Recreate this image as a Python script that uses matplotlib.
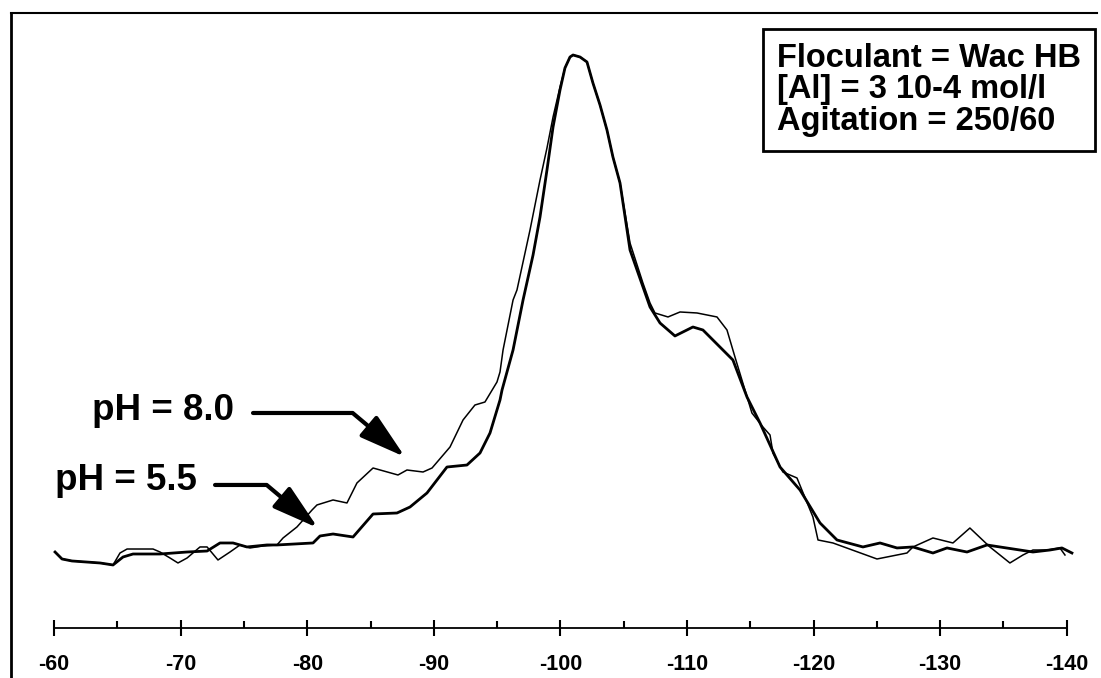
import matplotlib.pyplot as plt
from matplotlib.ticker import FixedLocator

plt.rcParams['font.family'] = ['Liberation Sans', 'DejaVu Sans']
plt.rcParams['axes.unicode_minus'] = False

# chemical shift (ppm) and intensity (arbitrary units, peak = 100)
ph55_x = [-60.08, -60.63, -61.42, -63.63, -64.66, -65.45, -66.24, -68.37, -70.51, -72.09,
          -73.11, -74.14, -75.24, -76.82, -77.61, -80.46, -81.01, -82.04, -83.62, -85.20,
          -87.09, -88.12, -89.46, -91.04, -92.62, -93.65, -94.44, -95.23, -95.39, -96.26,
          -97.05, -97.84, -98.39, -98.94, -99.42, -99.97, -100.36, -100.76, -101.00, -101.55,
          -102.10, -102.57, -103.13, -103.68, -104.15, -104.71,
          -105.50, -107.08, -107.87, -109.05, -110.47, -111.26, -113.63, -114.74, -115.77, -117.35,
          -118.93, -120.51, -121.85, -123.90, -125.25, -126.59, -127.85, -129.43, -130.54, -132.12,
          -133.70, -134.72, -136.30, -137.33, -138.67, -139.62, -140.41]
ph55_y = [5.33, 4.0, 3.62, 3.24, 2.86, 4.38, 4.95, 4.95, 5.33, 5.52,
          7.05, 7.05, 6.29, 6.67, 6.67, 7.05, 8.38, 8.76, 8.19, 12.57,
          12.76, 13.9, 16.57, 21.52, 21.9, 24.19, 28.0, 34.29, 36.19, 43.81,
          53.33, 61.9, 69.14, 78.1, 86.29, 93.33, 97.52, 99.62, 100, 99.62,
          98.67, 94.67, 90.48, 85.71, 80.57, 75.62,
          62.86, 52.0, 48.95, 46.48, 48.19, 47.62, 41.9, 34.86, 29.9, 21.52,
          17.14, 10.86, 7.62, 6.29, 7.05, 6.1, 6.29, 5.14, 6.1, 5.33,
          6.67, 6.29, 5.71, 5.33, 5.71, 6.1, 5.14]

ph80_x = [-60.08, -60.63, -61.42, -63.63, -64.66, -65.21, -65.77, -67.82, -68.37, -69.16,
          -69.79, -70.51, -71.53, -72.09, -72.95, -73.90, -74.69, -75.48, -76.51, -77.61,
          -78.09, -79.19, -80.38, -80.77, -82.04, -83.14, -83.93, -85.20, -87.17, -87.88,
          -89.15, -89.86, -91.28, -92.31, -93.25, -94.04, -94.99, -95.23, -95.47,
          -96.26, -96.57, -97.60, -98.39, -98.94, -99.42, -99.97, -100.36, -100.76, -101.00,
          -101.55, -102.10, -102.57, -103.13, -103.68, -104.15, -104.71, -105.50,
          -106.52, -107.08, -107.47, -108.50, -109.45, -110.79, -112.37, -113.16, -113.79,
          -114.58, -115.13, -116.00, -116.56, -116.79, -117.58, -118.69, -119.95, -120.35, -121.53,
          -125.01, -127.38, -127.85, -129.43, -131.01, -132.35, -133.93, -135.51, -136.54, -137.33,
          -138.44, -139.46, -139.86]
ph80_y = [5.33, 4.0, 3.62, 3.24, 2.86, 5.14, 5.9, 5.9, 5.33, 4.19,
          3.24, 4.19, 6.29, 6.29, 3.81, 5.33, 6.67, 6.1, 6.48, 6.67,
          8.0, 10.1, 13.33, 14.29, 15.24, 14.67, 18.48, 21.33, 20.0, 20.95,
          20.57, 21.33, 25.33, 30.48, 33.33, 33.9, 37.71, 39.62, 43.81,
          53.33, 55.24, 66.67, 76.19, 82.29, 88.19, 93.9, 97.52, 99.62, 100,
          99.62, 98.67, 94.67, 90.48, 85.71, 80.57, 75.62, 64.19,
          56.57, 52.76, 50.86, 50.1, 51.05, 50.86, 50.1, 47.62, 42.48,
          36.19, 31.81, 29.14, 27.62, 24.19, 20.57, 19.43, 12.0, 7.62, 7.05,
          4.0, 5.14, 6.29, 8.0, 7.05, 9.9, 6.29, 3.24, 4.76, 5.71,
          5.71, 6.1, 4.76]

major_ticks = [-60, -70, -80, -90, -100, -110, -120, -130, -140]
tick_labels = ['-60', '-70', '-80', '-90', '-100', '-110', '-120', '-130', '-140']
minor_ticks = [-65, -75, -85, -95, -105, -115, -125, -135]

info = 'Floculant = Wac HB\n[Al] = 3 10-4 mol/l\nAgitation = 250/60'

fig = plt.figure(figsize=(11.01, 6.78), dpi=100)
ax = fig.add_axes([11 / 1101, 0, 1086 / 1101, 665 / 678])
ax.set_xlim(-56.60, -142.39)
ax.set_ylim(-18.67, 108.0)

ax.plot(ph80_x, ph80_y, color='black', lw=1.1)
ax.plot(ph55_x, ph55_y, color='black', lw=2.0)

# axes decoration
ax.spines['right'].set_visible(False)
ax.spines['left'].set_linewidth(2.0)
ax.spines['top'].set_linewidth(1.5)
ax.spines['bottom'].set_position(('data', -9.14))
ax.spines['bottom'].set_bounds(-60, -140)
ax.spines['bottom'].set_linewidth(1.3)
ax.set_yticks([])
ax.xaxis.set_major_locator(FixedLocator(major_ticks))
ax.xaxis.set_minor_locator(FixedLocator(minor_ticks))
ax.set_xticklabels(tick_labels, fontsize=15.5, fontweight='bold')
ax.tick_params(axis='x', which='major', direction='inout', length=12, width=1.5, pad=13)
ax.tick_params(axis='x', which='minor', direction='in', length=5, width=1.5)

# labels with arrows
ax.text(-63.0, 32.19, 'pH = 8.0', fontsize=26.5, fontweight='bold', ha='left', va='center')
ax.text(-60.08, 18.86, 'pH = 5.5', fontsize=26.5, fontweight='bold', ha='left', va='center')
arrow = dict(arrowstyle='-|>,head_length=1.9,head_width=0.55', lw=3, color='black',
             mutation_scale=15, shrinkA=0, shrinkB=0,
             connectionstyle='angle,angleA=0,angleB=-40,rad=0')
ax.annotate('', xy=(-87.73, 23.43), xytext=(-75.72, 31.81), arrowprops=arrow)
ax.annotate('', xy=(-80.85, 9.90), xytext=(-72.72, 18.10), arrowprops=arrow)

ax.text(-117.11, 102.3, info, fontsize=23.5, fontweight='bold', ha='left', va='top',
        linespacing=1.02,
        bbox=dict(boxstyle='square,pad=0.42', facecolor='white', edgecolor='black', lw=2))

fig.savefig('out.png', dpi=100)
